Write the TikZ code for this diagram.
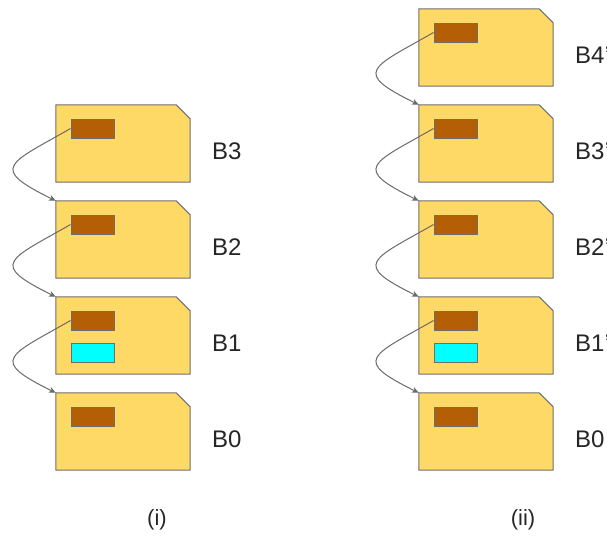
\documentclass[tikz,border=0pt]{standalone}
\usepackage{fontspec}
\setmainfont{Liberation Sans}
\usetikzlibrary{arrows.meta}
\definecolor{cardfill}{HTML}{FFD966}
\definecolor{cardline}{HTML}{6E6E6E}
\definecolor{brownbox}{HTML}{B45F06}
\definecolor{cyanbox}{HTML}{00FFFF}
\definecolor{linkgray}{HTML}{6A6A6A}
\tikzset{
  cardnode/.style={rectangle, minimum width=134pt, minimum height=77pt, inner sep=0pt, draw=none},
  brownrect/.style={rectangle, draw=cardline, fill=brownbox, line width=0.9pt, minimum width=43pt, minimum height=19pt, inner sep=0pt},
  cyanrect/.style={rectangle, draw=cardline, fill=cyanbox, line width=0.9pt, minimum width=43pt, minimum height=19pt, inner sep=0pt},
  lbl/.style={anchor=west, font=\fontsize{24}{28}\selectfont, inner sep=0pt, text=black!85},
  captext/.style={font=\fontsize{22}{26}\selectfont, inner sep=0pt, text=black!85},
  link/.style={draw=linkgray, line width=1pt, -{Stealth[length=7pt,width=6pt]}},
}
\newcommand{\pr}{\symbol{39}}
\newcommand{\cardshape}[1]{%
  \draw[cardline, fill=cardfill, line width=1pt] (#1.south west) -- (#1.north west) -- ([xshift=-14pt]#1.north east) -- ([yshift=-14pt]#1.north east) -- (#1.south east) -- cycle;}
\newcommand{\mylink}[2]{%
  \draw[link] (#1.west) .. controls ([xshift=-63pt,yshift=-36pt]#1.west) and ([xshift=-67pt,yshift=33pt]#2.north west) .. (#2.north west);}
\begin{document}
\begin{tikzpicture}[x=1pt,y=-1pt]
\useasboundingbox (0,0) rectangle (607,535);
% left column
\foreach \n/\t in {L3/105,L2/201,L1/297,L0/393}{
  \node[cardnode] (\n) at (123,\t+38.5) {};
  \cardshape{\n}
}
\node[brownrect] (bL3) at (92.5,128.5) {};
\node[brownrect] (bL2) at (92.5,224.5) {};
\node[brownrect] (bL1) at (92.5,320.5) {};
\node[cyanrect] (cL1) at (92.5,352.5) {};
\node[brownrect] (bL0) at (92.5,416.5) {};
\node[lbl] (tL3) at (212,151) {B3};
\node[lbl] (tL2) at (212,247) {B2};
\node[lbl] (tL1) at (212,343) {B1};
\node[lbl] (tL0) at (212,439) {B0};
\mylink{bL3}{L2}
\mylink{bL2}{L1}
\mylink{bL1}{L0}
% right column
\foreach \n/\t in {R4/9,R3/105,R2/201,R1/297,R0/393}{
  \node[cardnode] (\n) at (486,\t+38.5) {};
  \cardshape{\n}
}
\node[brownrect] (bR4) at (455.5,32.5) {};
\node[brownrect] (bR3) at (455.5,128.5) {};
\node[brownrect] (bR2) at (455.5,224.5) {};
\node[brownrect] (bR1) at (455.5,320.5) {};
\node[cyanrect] (cR1) at (455.5,352.5) {};
\node[brownrect] (bR0) at (455.5,416.5) {};
\node[lbl] (tR4) at (575,55) {B4\pr};
\node[lbl] (tR3) at (575,151) {B3\pr};
\node[lbl] (tR2) at (575,247) {B2\pr};
\node[lbl] (tR1) at (575,343) {B1\pr};
\node[lbl] (tR0) at (575,439) {B0};
\mylink{bR4}{R3}
\mylink{bR3}{R2}
\mylink{bR2}{R1}
\mylink{bR1}{R0}
% captions
\node[captext] (capi) at (157,520) {(i)};
\node[captext] (capii) at (523,520) {(ii)};
\end{tikzpicture}
\end{document}
